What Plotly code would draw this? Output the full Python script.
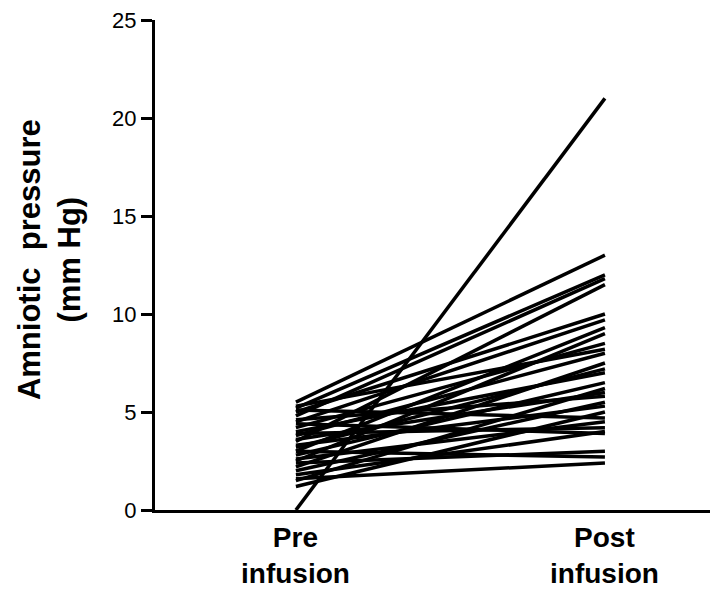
import plotly.graph_objects as go

categories = ["Pre<br>infusion", "Post<br>infusion"]
pre_values = [0.0, 5.5, 5.2, 4.8, 3.5, 5.0, 4.5, 3.0, 2.5, 4.2, 5.3, 3.8, 2.2, 3.2, 4.0,
              2.8, 1.5, 3.6, 4.6, 2.0, 3.3, 1.2, 5.1, 2.6, 3.9, 1.8, 4.4, 2.4, 3.0, 1.6]
post_values = [21.0, 13.0, 12.0, 11.8, 11.5, 10.0, 9.7, 9.3, 9.0, 8.5, 8.2, 8.0, 7.5, 7.2, 7.0,
               6.5, 6.2, 6.0, 5.8, 5.5, 5.3, 5.0, 4.7, 4.5, 4.2, 4.0, 3.9, 3.0, 2.7, 2.4]
y_ticks = [0, 5, 10, 15, 20, 25]

fig = go.Figure()
for a, b in zip(pre_values, post_values):
    fig.add_trace(go.Scatter(x=[0, 1], y=[a, b], mode="lines",
                             line=dict(color="black", width=3.5), showlegend=False,
                             hoverinfo="skip"))

for i, lab in enumerate(categories):
    fig.add_annotation(x=i, y=0, xref="x", yref="paper", text="<b>" + lab + "</b>",
                       showarrow=False, yanchor="top", yshift=-10,
                       font=dict(family="Liberation Sans, Arial", size=28, color="black"))

fig.add_annotation(x=0, y=0.51, xref="paper", yref="paper",
                   text="<b>Amniotic  pressure<br>(mm Hg)</b>", textangle=-90,
                   showarrow=False, xanchor="center", yanchor="middle", xshift=-106,
                   font=dict(family="Liberation Sans, Arial", size=31, color="black"))

fig.update_layout(
    width=716, height=604,
    margin=dict(l=155, r=6, t=20, b=94),
    paper_bgcolor="white", plot_bgcolor="white",
    xaxis=dict(range=[-0.456, 1.34], showgrid=False, zeroline=False,
               showline=True, linecolor="black", linewidth=3,
               showticklabels=False, ticks=""),
    yaxis=dict(range=[0, 25], tickvals=y_ticks, showgrid=False, zeroline=False,
               showline=True, linecolor="black", linewidth=3,
               ticks="outside", ticklen=11, tickwidth=2.5, tickcolor="black",
               tickfont=dict(family="Liberation Sans, Arial", size=22, color="black")),
)

fig.write_html("out.html")
